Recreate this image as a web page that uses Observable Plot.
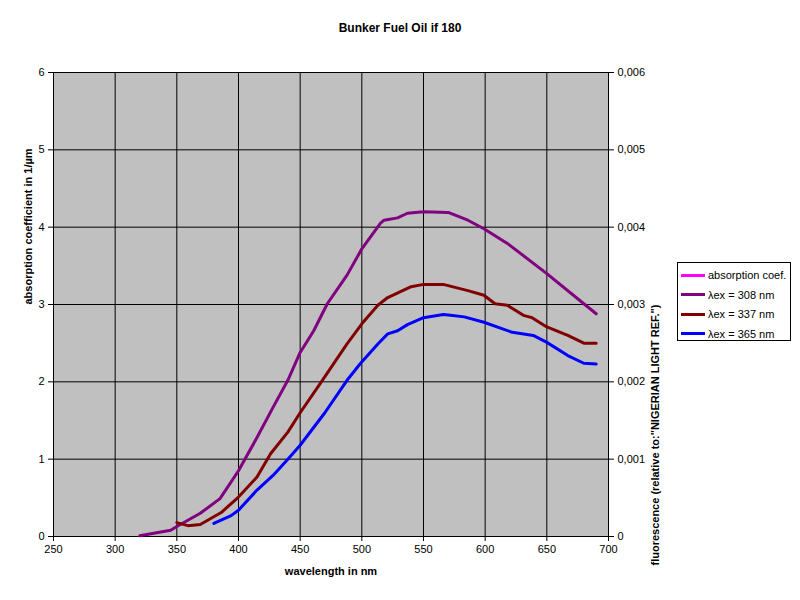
<!DOCTYPE html>
<html><head><meta charset="utf-8">
<script src="https://cdn.jsdelivr.net/npm/d3@7"></script>
<script src="https://cdn.jsdelivr.net/npm/@observablehq/plot@0.6"></script>
<style>
body{margin:0;background:#fff;font-family:"Liberation Sans",Arial,sans-serif;}
#wrap{position:relative;width:800px;height:600px;}
#title{height:50px;line-height:56px;text-align:center;font-weight:bold;font-size:12px;padding-left:0px;}
#legend{position:absolute;left:677px;top:262px;width:112px;height:77px;border:1px solid #000;background:#fff;font-size:11px;}
#legend .row{position:absolute;left:3px;height:14px;display:flex;align-items:center;}
#legend .sw{width:24px;height:3px;margin-right:3px;}
</style></head>
<body><div id="wrap"><div id="title">Bunker Fuel Oil if 180</div><div id="chart"></div><div id="legend"></div></div>
<script>
const xTicks = [250,300,350,400,450,500,550,600,650,700];
const yTicks = [0,1,2,3,4,5,6];
const rightLabels = ["0","0,001","0,002","0,003","0,004","0,005","0,006"];
const seriesNames = ["absorption coef.","λex = 308 nm","λex = 337 nm","λex = 365 nm"];
const seriesColors = ["#FF00FF","#800080","#800000","#0000FF"];

const wl308 = [320,345,350,369,385,400,415,428,440,450,461,472,488,500,515,518,529,537,550,570,586,599,618,650,680,690];
const v308  = [0.01,0.08,0.13,0.30,0.49,0.85,1.28,1.67,2.02,2.38,2.66,3.01,3.38,3.72,4.05,4.09,4.12,4.18,4.20,4.19,4.09,3.98,3.79,3.40,3.01,2.88];
const wl337 = [350,359,369,386,400,415,426,440,450,468,488,500,513,521,540,550,566,586,599,608,618,631,638,650,667,680,690];
const v337  = [0.18,0.14,0.155,0.31,0.51,0.77,1.07,1.35,1.60,2.02,2.49,2.75,2.99,3.09,3.23,3.26,3.26,3.18,3.12,3.01,2.99,2.86,2.83,2.71,2.60,2.50,2.50];
const wl365 = [380,394,400,415,428,440,450,470,488,499,513,521,529,537,550,566,572,583,599,622,639,650,667,680,690];
const v365  = [0.17,0.27,0.34,0.60,0.79,1.00,1.18,1.60,2.02,2.24,2.49,2.62,2.66,2.74,2.83,2.87,2.86,2.84,2.77,2.64,2.60,2.51,2.34,2.24,2.23];

const mk = (wl, v) => wl.map((w,i)=>({x:w,y:v[i]}));
const s308 = mk(wl308,v308), s337 = mk(wl337,v337), s365 = mk(wl365,v365);

const chart = Plot.plot({
  width: 800, height: 550,
  marginLeft: 53, marginRight: 192, marginTop: 22, marginBottom: 64,
  style: {fontFamily: "'Liberation Sans', Arial, sans-serif", fontSize: "11px", background: "white", color: "black", overflow: "visible"},
  x: {domain: [250,700]},
  y: {domain: [0,6]},
  marks: [
    Plot.frame({fill: "#C0C0C0", stroke: "#808080"}),
    Plot.gridX(xTicks, {stroke: "black", strokeOpacity: 1}),
    Plot.gridY(yTicks, {stroke: "black", strokeOpacity: 1}),
    Plot.ruleX([250,700], {stroke: "black"}),
    Plot.ruleY([0], {stroke: "black"}),
    Plot.axisX(xTicks, {tickSize: 5, tickPadding: 4, label: null, tickFormat: d => String(d)}),
    Plot.axisY(yTicks, {anchor: "left", tickSize: 5, tickPadding: 4, label: null, tickFormat: d => String(d)}),
    Plot.axisY(yTicks, {anchor: "right", tickSize: 5, tickPadding: 4, label: null, tickFormat: (d,i) => rightLabels[yTicks.indexOf(d)]}),
    Plot.line(s308, {x: "x", y: "y", stroke: seriesColors[1], strokeWidth: 3}),
    Plot.line(s337, {x: "x", y: "y", stroke: seriesColors[2], strokeWidth: 3}),
    Plot.line(s365, {x: "x", y: "y", stroke: seriesColors[3], strokeWidth: 3}),
    Plot.text(["wavelength in nm"], {frameAnchor: "bottom", dy: 38, fontWeight: "bold"}),
    Plot.text(["absorption coefficient in 1/µm"], {frameAnchor: "left", dx: -25, rotate: -90, fontWeight: "bold"}),
    Plot.text(["fluorescence (relative to:\"NIGERIAN LIGHT REF.\")"], {frameAnchor: "right", dx: 47, rotate: -90, fontWeight: "bold"})
  ]
});
document.getElementById("chart").appendChild(chart);

const leg = document.getElementById("legend");
seriesNames.forEach((n,i) => {
  const r = document.createElement("div");
  r.className = "row";
  r.style.top = (5 + i*19.5) + "px";
  r.innerHTML = `<span class="sw" style="background:${seriesColors[i]}"></span><span>${n}</span>`;
  leg.appendChild(r);
});
</script></body></html>
